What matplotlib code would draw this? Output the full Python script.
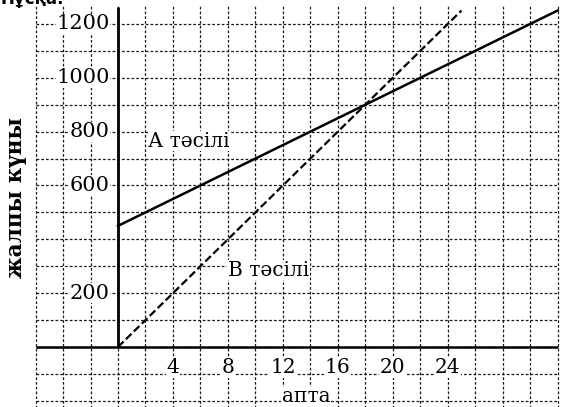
import numpy as np
import matplotlib as mpl
mpl.use('Agg')
from matplotlib import pyplot as plt

# ---------- data ----------
weeks_a = [0, 32]
cost_a = [450, 1250]          # А тәсілі: 450 + 25*w
weeks_b = [0, 25]
cost_b = [0, 1250]            # В тәсілі: 50*w

x_ticks = [4, 8, 12, 16, 20, 24]
y_ticks = [200, 600, 800, 1000, 1200]

grid_x = np.arange(-6, 33, 2)
grid_y = np.arange(-200, 1201, 100)

# ---------- figure ----------
W, H = 561, 407
fig = plt.figure(figsize=(W / 100.0, H / 100.0), dpi=100)
ax = fig.add_axes([0, 0, 1, 1])

# pixel -> data mapping: origin at (118, 347) px, 13.74 px per week, 0.2692 px per unit
px_w = 13.74
px_u = 0.2692
ax.set_xlim(-118 / px_w, (W - 118) / px_w)
ax.set_ylim(-(H - 347) / px_u, 347 / px_u)
ax.axis('off')

serif = 'DejaVu Serif'
grid_kw = dict(color='#1a1a1a', lw=0.9, ls=(0, (2.2, 1.6)), zorder=1)

for gx in grid_x:
    ax.plot([gx, gx], [-230, 1265], **grid_kw)
for gy in grid_y:
    ax.plot([-6, 32], [gy, gy], **grid_kw)

# axes
ax.plot([0, 0], [0, 1262], color='black', lw=2.0, zorder=3, solid_capstyle='butt')
ax.plot([-6, 32], [0, 0], color='black', lw=1.8, zorder=3, solid_capstyle='butt')

# the two methods
ax.plot(weeks_a, cost_a, color='black', lw=1.8, zorder=4)
ax.plot(weeks_b, cost_b, color='black', lw=1.6, ls=(0, (3.5, 1.5)), zorder=4)

box = dict(facecolor='white', edgecolor='none', pad=0.5)
for v in y_ticks:
    ax.text(-0.6, v, str(v), ha='right', va='center', fontsize=15,
            family=serif, bbox=box, zorder=5)
for v in x_ticks:
    ax.text(v, -78, str(v), ha='center', va='center', fontsize=14.5,
            family=serif, bbox=box, zorder=5)

ax.text(2.2, 765, 'А тәсілі', ha='left', va='center', fontsize=14.5,
        family=serif, bbox=box, zorder=5)
ax.text(8.0, 285, 'В тәсілі', ha='left', va='center', fontsize=14.5,
        family=serif, bbox=box, zorder=5)
ax.text(13.7, -185, 'апта', ha='center', va='center', fontsize=14.5,
        family=serif, bbox=box, zorder=5)

fig.text(16 / W, 1 - 197 / H, 'жалпы күны', rotation=90, ha='center',
         va='center', fontsize=15.5, family=serif, fontweight='bold')
fig.text(0.0, 1 - 4 / H, 'Нұсқа:', ha='left', va='baseline', fontsize=12,
         family='DejaVu Sans', fontweight='bold')

fig.savefig('out.png', dpi=100, facecolor='w')
